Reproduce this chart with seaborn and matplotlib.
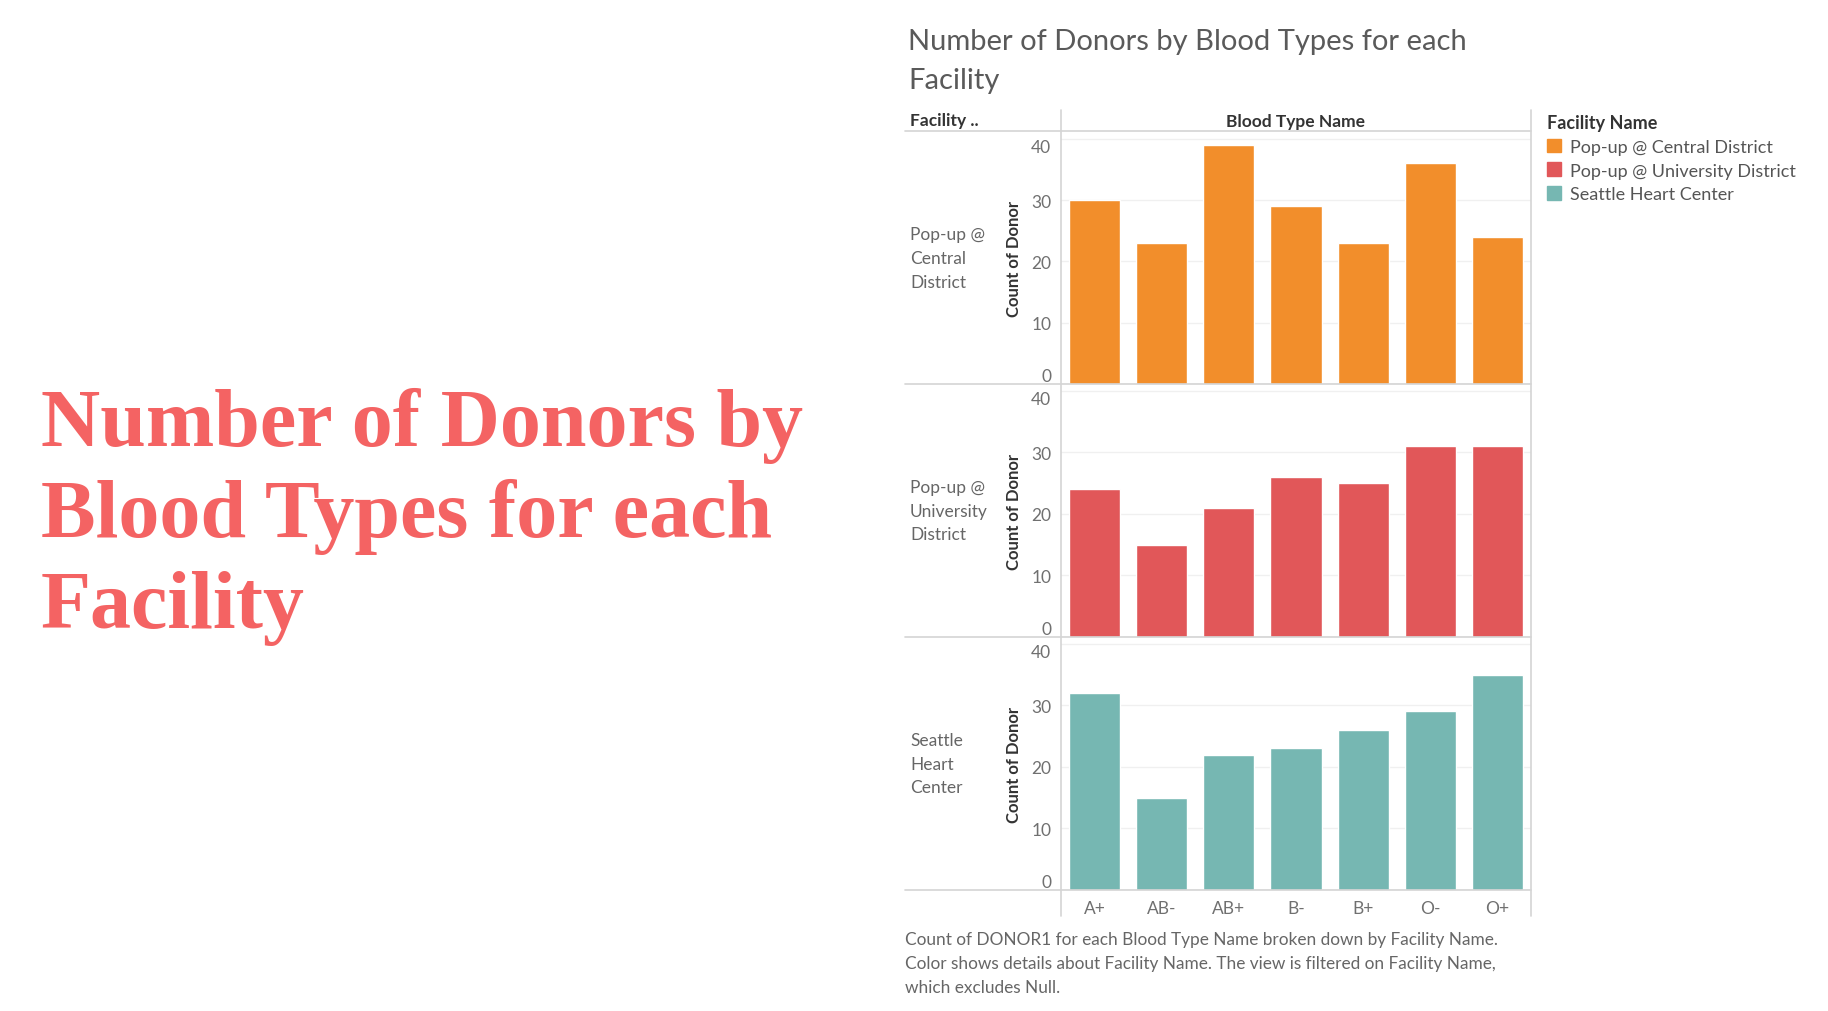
import pandas as pd
import seaborn as sns
import matplotlib.pyplot as plt
from matplotlib.lines import Line2D
from matplotlib.patches import Patch

blood_types = ["A+", "AB-", "AB+", "B-", "B+", "O-", "O+"]
facilities = ["Pop-up @ Central District", "Pop-up @ University District",
              "Seattle Heart Center"]
central = [30, 23, 39, 29, 23, 36, 24]
university = [24, 15, 21, 26, 25, 31, 31]
seattle = [32, 15, 22, 23, 26, 29, 35]
row_labels = [["Pop-up @", "Central", "District"],
              ["Pop-up @", "University", "District"],
              ["Seattle", "Heart", "Center"]]
y_ticks = [0, 10, 20, 30, 40]
colors = ["#F28E2B", "#E15759", "#76B7B2"]

df = pd.DataFrame({
    "Facility": [f for f in facilities for _ in blood_types],
    "Blood Type": blood_types * 3,
    "Count": central + university + seattle,
})

sns.set_theme(style="white")
plt.rcParams["font.family"] = ["Lato", "DejaVu Sans"]

W, H = 1828, 1012
fig = plt.figure(figsize=(W / 100, H / 100), dpi=100)


def fx(px):
    return px / W


def fy(py):
    return 1 - py / H


line_col = "#d4d4d4"
left, right = 1061, 1531
tops = [133, 385, 638]
bottoms = [385, 638, 891]

for i, fac in enumerate(facilities):
    ax = fig.add_axes([fx(left), fy(bottoms[i]), (right - left) / W,
                       (bottoms[i] - tops[i]) / H])
    sub = df[df["Facility"] == fac]
    sns.barplot(data=sub, x="Blood Type", y="Count", order=blood_types,
                color=colors[i], saturation=1, width=0.76, ax=ax)
    ax.set_ylim(0, 41.1)
    ax.set_xlim(-0.5, 6.5)
    ax.set_yticks(y_ticks)
    ax.yaxis.grid(True, color="#f0f0f0", lw=1)
    ax.set_axisbelow(True)
    for s in ax.spines.values():
        s.set_visible(False)
    ax.tick_params(axis="y", length=0, pad=7, labelsize=12.5, labelcolor="#707070")
    ax.tick_params(axis="x", length=0, pad=7, labelsize=12.5, labelcolor="#707070")
    ylabs = ax.get_yticklabels()
    ylabs[0].set_va("bottom")
    ylabs[-1].set_va("top")
    ax.set_xlabel("")
    ax.set_ylabel("Count of Donor", fontsize=12, fontweight="bold", color="#333333")
    ax.yaxis.set_label_coords(-0.082, 0.5)
    if i < 2:
        ax.tick_params(axis="x", labelbottom=False)
    mid = (tops[i] + bottoms[i]) / 2
    for j, txt in enumerate(row_labels[i]):
        fig.text(fx(910), fy(mid + (j - 1) * 23.5), txt, fontsize=12.5,
                 color="#666666", ha="left", va="center")

# table lines
for y in [132] + bottoms:
    fig.add_artist(Line2D([fx(905), fx(right)], [fy(y), fy(y)], color=line_col, lw=1.2))
for x in [left, right]:
    fig.add_artist(Line2D([fx(x), fx(x)], [fy(111), fy(917)], color=line_col, lw=1.2))

fig.text(fx(910), fy(121), "Facility ..", fontsize=12.5, fontweight="bold",
         color="#333333", ha="left", va="center")
fig.text(fx((left + right) / 2), fy(122), "Blood Type Name", fontsize=12.5,
         fontweight="bold", color="#333333", ha="center", va="center")

# chart title
fig.text(fx(908), fy(42), "Number of Donors by Blood Types for each", fontsize=21,
         color="#5a5a5a", ha="left", va="center")
fig.text(fx(908), fy(81), "Facility", fontsize=21, color="#5a5a5a",
         ha="left", va="center")

# legend
handles = [Patch(color=c, label=f) for c, f in zip(colors, facilities)]
leg = fig.legend(handles=handles, loc="upper left", bbox_to_anchor=(fx(1547), fy(115)),
                 frameon=False, title="Facility Name", alignment="left",
                 handlelength=0.8, handleheight=0.8, handletextpad=0.5,
                 labelspacing=0.42, fontsize=13, title_fontsize=13,
                 borderaxespad=0, borderpad=0, labelcolor="#555555")
leg.get_title().set_fontweight("bold")
leg.get_title().set_color("#333333")

# footnote
notes = ["Count of DONOR1 for each Blood Type Name broken down by Facility Name.",
         "Color shows details about Facility Name. The view is filtered on Facility Name,",
         "which excludes Null."]
for j, txt in enumerate(notes):
    fig.text(fx(905), fy(940 + j * 24), txt, fontsize=12.4, color="#666666",
             ha="left", va="center")

# big left title
big = ["Number of Donors by", "Blood Types for each", "Facility"]
for txt, base in zip(big, [446, 537, 628]):
    fig.text(fx(41), fy(base), txt, fontsize=59, fontweight="bold",
             family="Liberation Serif", color="#F46363", ha="left", va="baseline")

plt.savefig("out.png", dpi=100)
